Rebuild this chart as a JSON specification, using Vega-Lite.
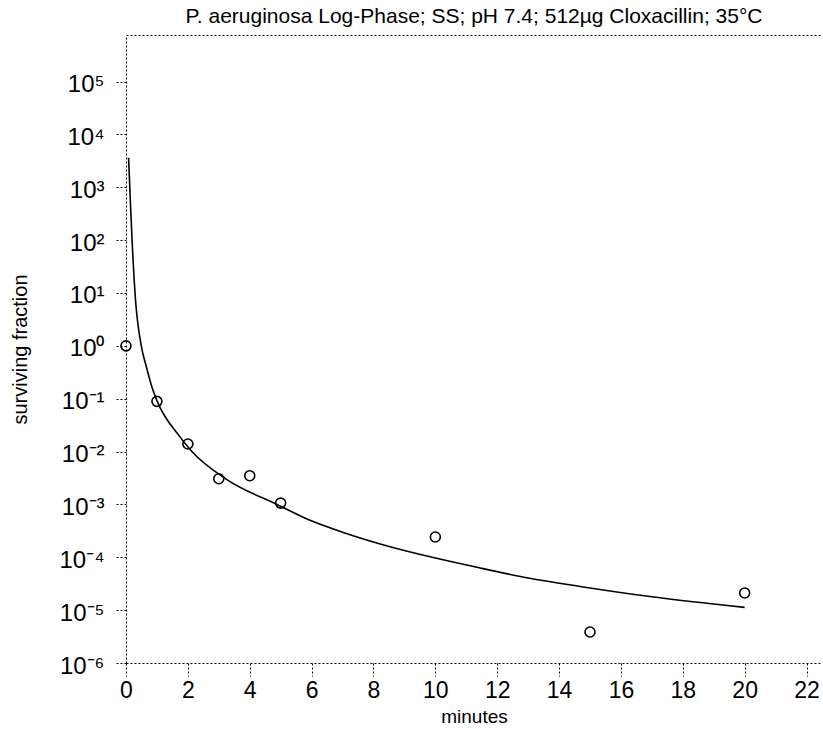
{
  "$schema": "https://vega.github.io/schema/vega-lite/v6.json",
  "autosize": {"type": "none"},
  "width": 696,
  "height": 628,
  "padding": {"left": 126, "top": 35, "right": 1, "bottom": 66},
  "background": "white",
  "config": {
    "view": {"stroke": null},
    "font": "Liberation Sans",
    "axis": {
      "domainColor": "#000000",
      "domainDash": [2, 2],
      "domainWidth": 1,
      "tickColor": "#000000",
      "tickDash": [2, 2],
      "tickWidth": 1,
      "grid": false,
      "labelColor": "#000000",
      "titleColor": "#000000",
      "labelFont": "Liberation Sans",
      "titleFont": "Liberation Sans",
      "titleFontWeight": "normal"
    }
  },
  "title": {
    "text": "P. aeruginosa Log-Phase; SS; pH 7.4; 512µg Cloxacillin; 35°C",
    "font": "Liberation Sans",
    "fontSize": 21,
    "fontWeight": "normal",
    "color": "#000000",
    "anchor": "middle",
    "offset": 8
  },
  "datasets": {
    "obs": [
      {"minutes": 0, "surviving": 1},
      {"minutes": 1, "surviving": 0.089},
      {"minutes": 2, "surviving": 0.0139},
      {"minutes": 3, "surviving": 0.00306},
      {"minutes": 4, "surviving": 0.00349},
      {"minutes": 5, "surviving": 0.00106},
      {"minutes": 10, "surviving": 0.000242},
      {"minutes": 15, "surviving": 0.00000386},
      {"minutes": 20, "surviving": 0.0000211}
    ],
    "fit": [
      {"minutes": 0.084, "surviving": 3606},
      {"minutes": 0.139, "surviving": 575},
      {"minutes": 0.194, "surviving": 107},
      {"minutes": 0.3, "surviving": 8.5},
      {"minutes": 0.494, "surviving": 1},
      {"minutes": 0.656, "surviving": 0.407},
      {"minutes": 0.818, "surviving": 0.182},
      {"minutes": 1.01, "surviving": 0.0891},
      {"minutes": 1.69, "surviving": 0.0209},
      {"minutes": 2.13, "surviving": 0.01},
      {"minutes": 3.26, "surviving": 0.00295},
      {"minutes": 4.88, "surviving": 0.001},
      {"minutes": 5.95, "surviving": 0.0005},
      {"minutes": 7, "surviving": 0.000298},
      {"minutes": 8.22, "surviving": 0.000178},
      {"minutes": 11.45, "surviving": 0.0000627},
      {"minutes": 13, "surviving": 0.0000406},
      {"minutes": 14.68, "surviving": 0.0000281},
      {"minutes": 17, "surviving": 0.0000179},
      {"minutes": 20, "surviving": 0.0000113}
    ]
  },
  "layer": [
    {
      "data": {"name": "fit"},
      "mark": {"type": "line", "color": "#000000", "strokeWidth": 1.6, "interpolate": "monotone", "clip": true},
      "encoding": {
        "x": {
          "field": "minutes", "type": "quantitative",
          "scale": {"domain": [0, 22.5], "nice": false, "zero": false},
          "axis": {
            "orient": "bottom",
            "values": [0, 2, 4, 6, 8, 10, 12, 14, 16, 18, 20, 22],
            "title": "minutes",
            "titleFontSize": 19,
            "titlePadding": 5,
            "labelFontSize": 23,
            "tickSize": 13,
            "labelPadding": 3,
            "labelFlush": false
          }
        },
        "y": {
          "field": "surviving", "type": "quantitative",
          "scale": {"type": "log", "domain": [0.000001, 758578], "nice": false},
          "axis": {
            "orient": "left",
            "values": [0.000001, 0.00001, 0.0001, 0.001, 0.01, 0.1, 1, 10, 100, 1000, 10000, 100000],
            "labelExpr": "'10' + (round(log(datum.value)/LN10) < 0 ? '⁻' : '') + substring('⁰¹²³⁴⁵⁶⁷⁸⁹', abs(round(log(datum.value)/LN10)), abs(round(log(datum.value)/LN10)) + 1)",
            "title": "surviving fraction",
            "titleFontSize": 20,
            "titlePadding": 28,
            "labelFontSize": 24,
            "tickSize": 12,
            "labelPadding": 10,
            "labelFlush": false,
            "labelOffset": 3
          }
        }
      }
    },
    {
      "data": {"name": "obs"},
      "mark": {"type": "point", "shape": "circle", "filled": false, "color": "#000000", "opacity": 1, "size": 100, "strokeWidth": 1.6},
      "encoding": {
        "x": {
          "field": "minutes", "type": "quantitative",
          "axis": {"orient": "top", "labels": false, "ticks": false, "title": null}
        },
        "y": {"field": "surviving", "type": "quantitative"}
      }
    }
  ]
}
